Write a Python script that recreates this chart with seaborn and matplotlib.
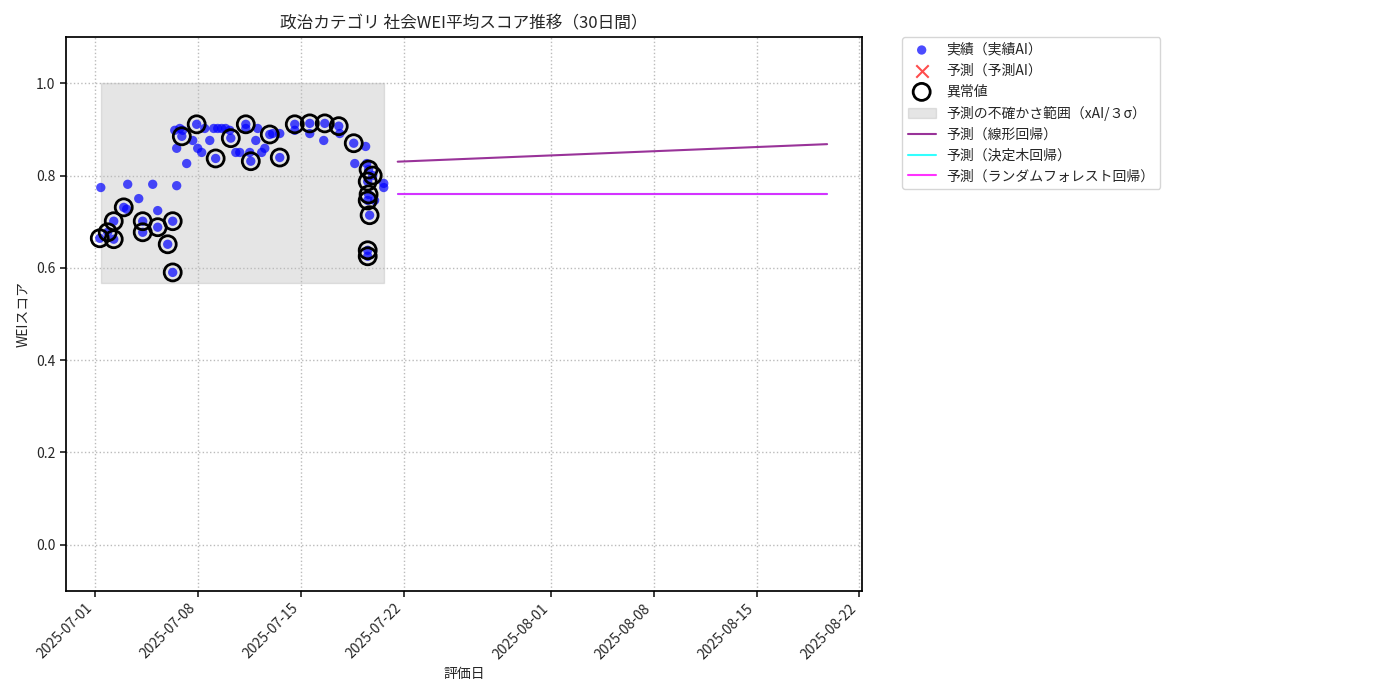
import numpy as np
import pandas as pd
import matplotlib
matplotlib.use("Agg")
import matplotlib.pyplot as plt
import matplotlib.dates as mdates
import seaborn as sns

sns.set_theme(style="white")
plt.rcParams['font.family'] = ['Noto Sans CJK JP', 'DejaVu Sans']

base = pd.Timestamp("2025-07-01")

# 実績（通常点）: 7/1からの日数, スコア
normal_days = [0.41, 2.24, 3.94, 2.99, 4.28, 2.17, 5.57, 5.44, 5.78, 5.98, 6.25, 6.66, 7.00, 7.27,
               7.48, 7.82, 8.09, 8.36, 8.63, 8.90, 9.18, 9.59, 9.86, 10.27, 10.54, 10.95, 11.08,
               11.35, 11.56, 12.10, 12.58, 13.60, 14.62, 15.57, 16.66, 17.68, 18.42, 18.49, 19.03,
               19.65, 19.65, 5.57]
normal_vals = [0.774, 0.781, 0.781, 0.750, 0.724, 0.727, 0.859, 0.898, 0.902, 0.898, 0.826, 0.876,
               0.859, 0.850, 0.902, 0.876, 0.902, 0.902, 0.902, 0.902, 0.898, 0.850, 0.850, 0.902,
               0.850, 0.876, 0.902, 0.850, 0.859, 0.891, 0.891, 0.898, 0.891, 0.876, 0.891, 0.826,
               0.863, 0.826, 0.746, 0.783, 0.774, 0.778]

# 異常値
outlier_days = [0.34, 0.88, 1.29, 1.29, 1.97, 3.26, 3.26, 4.28, 4.96, 5.30, 5.30, 5.92, 6.93, 8.22,
                9.25, 10.27, 10.61, 11.90, 12.58, 13.60, 14.62, 15.64, 16.59, 17.61, 18.62, 18.90,
                18.56, 18.62, 18.56, 18.69, 18.56, 18.56]
outlier_vals = [0.664, 0.677, 0.701, 0.662, 0.731, 0.701, 0.677, 0.688, 0.651, 0.701, 0.590, 0.885,
                0.911, 0.837, 0.881, 0.911, 0.831, 0.889, 0.839, 0.911, 0.913, 0.913, 0.907, 0.870,
                0.813, 0.800, 0.787, 0.759, 0.746, 0.714, 0.638, 0.625]

# 予測
pred_days = [20.6, 49.8]
pred_linear = [0.830, 0.868]
pred_tree = [0.759, 0.759]
pred_rf = [0.759, 0.759]
band_days = [0.41, 19.65]
band_low, band_high = 0.567, 1.0

def to_dates(days):
    return base + pd.to_timedelta(days, unit="D")

actual = pd.DataFrame({"date": to_dates(normal_days + outlier_days), "score": normal_vals + outlier_vals})
outl = pd.DataFrame({"date": to_dates(outlier_days), "score": outlier_vals})
pred = pd.DataFrame({"date": to_dates(pred_days), "lin": pred_linear, "tree": pred_tree, "rf": pred_rf})

fig = plt.figure(figsize=(14, 7), dpi=100)
ax = fig.add_axes([0.047, 0.156, 0.569, 0.791])

bd = to_dates(band_days)
ax.fill_between(bd, [band_low] * 2, [band_high] * 2, color="gray", alpha=0.2,
                label="予測の不確かさ範囲（xAI/３σ）", zorder=0)
sns.scatterplot(data=actual, x="date", y="score", color="blue", alpha=0.7, s=45, edgecolor="none",
                label="実績（実績AI）", ax=ax, zorder=2)
ax.scatter([], [], marker="x", color="red", alpha=0.7, s=80, label="予測（予測AI）")
ax.scatter(outl["date"], outl["score"], s=150, facecolors="none", edgecolors="black",
           linewidths=2, label="異常値", zorder=3)
sns.lineplot(data=pred, x="date", y="lin", color="purple", alpha=0.8, label="予測（線形回帰）", ax=ax)
sns.lineplot(data=pred, x="date", y="tree", color="cyan", alpha=0.8, label="予測（決定木回帰）", ax=ax)
sns.lineplot(data=pred, x="date", y="rf", color="magenta", alpha=0.8, label="予測（ランダムフォレスト回帰）", ax=ax)

h, l = ax.get_legend_handles_labels()
order = ["実績（実績AI）", "予測（予測AI）", "異常値", "予測の不確かさ範囲（xAI/３σ）",
         "予測（線形回帰）", "予測（決定木回帰）", "予測（ランダムフォレスト回帰）"]
hd = dict(zip(l, h))
ax.legend([hd[k] for k in order], order, loc="upper left", bbox_to_anchor=(1.05, 1.0),
          borderaxespad=0, fontsize=10, frameon=True)

ax.set_xlim(base + pd.Timedelta(days=-1.97), base + pd.Timedelta(days=52.2))
ax.set_ylim(-0.1, 1.1)
ax.set_yticks([0.0, 0.2, 0.4, 0.6, 0.8, 1.0])
ax.xaxis.set_major_locator(mdates.DayLocator(bymonthday=[1, 8, 15, 22]))
ax.xaxis.set_major_formatter(mdates.DateFormatter("%Y-%m-%d"))
plt.setp(ax.get_xticklabels(), rotation=45, ha="right")
ax.tick_params(axis="both", labelsize=10, length=4, bottom=True, left=True)
ax.grid(True, linestyle=":", color="#bbbbbb")
for s in ax.spines.values():
    s.set_color("black")
ax.set_title("政治カテゴリ 社会WEI平均スコア推移（30日間）", fontsize=12)
ax.set_xlabel("評価日", fontsize=10)
ax.set_ylabel("WEIスコア", fontsize=10)

fig.savefig("out.png")
